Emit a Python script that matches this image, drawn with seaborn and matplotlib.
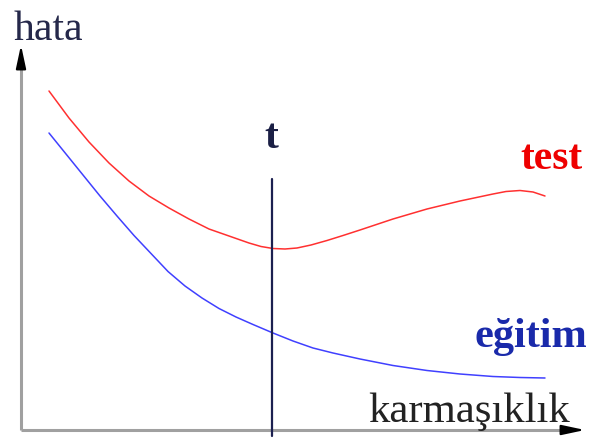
import matplotlib
matplotlib.use("Agg")
import matplotlib.pyplot as plt
import seaborn as sns
import pandas as pd

# complexity (x) and error (y), origin at the axes corner
test_x = [28, 48, 68, 88, 108, 128, 148, 168, 188, 208, 228, 240, 252, 264, 276, 290, 306, 322, 339, 372, 406, 439, 472, 485, 499, 512, 524]
test_y = [339, 312, 288, 267, 249, 234, 222, 211, 201, 194, 187, 183.5, 181.5, 181, 182, 185, 189.5, 194.5, 200, 211, 221, 229, 236, 238.5, 239.5, 238, 234]
egitim_x = [28, 45, 62, 79, 96, 113, 130, 147, 164, 181, 198, 215, 232, 252, 272, 292, 312, 339, 372, 406, 439, 472, 499, 524]
egitim_y = [297, 276, 255, 234, 214, 194.5, 176.5, 158.5, 144, 132, 121.5, 113, 105.5, 97, 89, 82, 77, 71, 64.5, 59.5, 56, 53.5, 52.5, 52]
t_x = 251
labels = {"x": "karmaşıklık", "y": "hata", "t": "t", "test": "test", "egitim": "eğitim"}

df = pd.concat([
    pd.DataFrame({"x": test_x, "y": test_y, "seri": "test"}),
    pd.DataFrame({"x": egitim_x, "y": egitim_y, "seri": "eğitim"}),
])

sns.set_style("white")
plt.rcParams["font.family"] = ["Liberation Serif", "DejaVu Serif"]

fig = plt.figure(figsize=(5.89, 4.44), dpi=100)
ax = fig.add_axes([0, 0, 1, 1])
sns.lineplot(data=df, x="x", y="y", hue="seri", palette={"test": "#ff3030", "eğitim": "#4040ff"},
             sort=False, estimator=None, legend=False, linewidth=1.1, ax=ax)
ax.set_xlim(-21, 568)
ax.set_ylim(-14, 430)
for s in ax.spines.values():
    s.set_visible(False)
ax.set_xticks([])
ax.set_yticks([])
ax.set_xlabel("")
ax.set_ylabel("")

# axes with arrows
ax.plot([0, 0], [0, 370], color="#a0a0a0", lw=2.2, solid_capstyle="butt", zorder=1)
ax.plot([0, 550], [0, 0], color="#a0a0a0", lw=2.2, solid_capstyle="butt", zorder=1)
ax.annotate("", xy=(0, 385), xytext=(0, 362),
            arrowprops=dict(arrowstyle="-|>,head_length=1.4,head_width=0.3", color="black", lw=1.5,
                            shrinkA=0, shrinkB=0))
ax.annotate("", xy=(564, 0), xytext=(541, 0),
            arrowprops=dict(arrowstyle="-|>,head_length=1.4,head_width=0.3", color="black", lw=1.5,
                            shrinkA=0, shrinkB=0))

# t line
ax.plot([t_x, t_x], [-6, 251], color="#1c2050", lw=1.6, zorder=3)

ax.text(-7, 390, labels["y"], fontsize=30, color="#25284a", ha="left", va="baseline")
ax.text(347, 8, labels["x"], fontsize=30.8, color="#222222", ha="left", va="baseline")
ax.text(t_x - 1, 282, labels["t"], fontsize=30, color="#1b1f45", ha="center", va="baseline", fontweight="bold")
ax.text(499, 261, labels["test"], fontsize=30, color="#ee0000", ha="left", va="baseline", fontweight="bold")
ax.text(453, 83, labels["egitim"], fontsize=30.5, color="#1a2aaa", ha="left", va="baseline", fontweight="bold")

fig.savefig("out.png", dpi=100)
